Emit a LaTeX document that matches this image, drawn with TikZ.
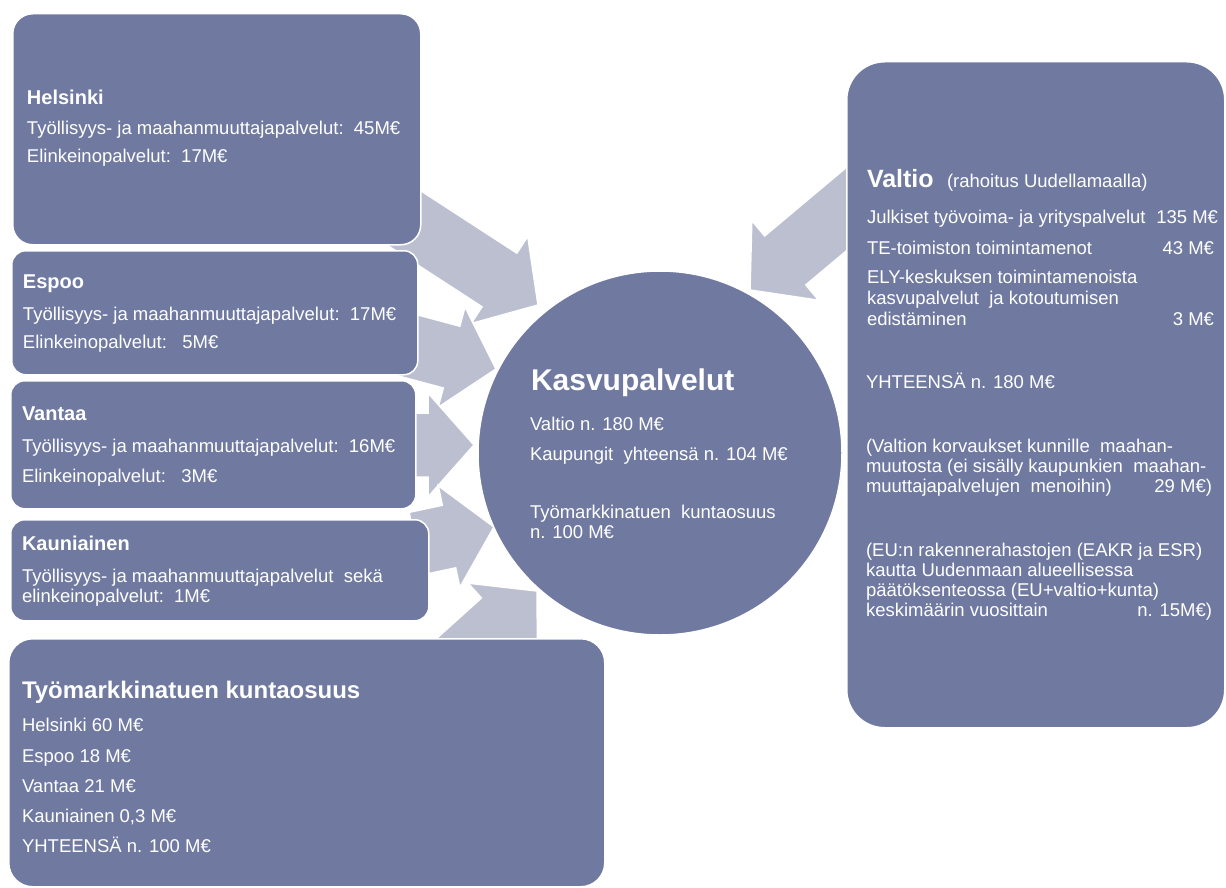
\documentclass[tikz,border=0pt]{standalone}
\usepackage{fontspec}
\setmainfont{Liberation Sans}
\definecolor{boxc}{RGB}{112,122,160}
\definecolor{arrc}{RGB}{188,191,208}
\begin{document}
\begin{tikzpicture}[x=1pt,y=-1pt,
  cbox/.style={fill=boxc,draw=white,line width=1.5pt,inner sep=0pt,anchor=north west},
  blockarrow/.style={fill=arrc,draw=white,line width=1.5pt,line join=miter},
  txt/.style={anchor=base west,inner sep=0pt,outer sep=0pt,text=white,font=\fontsize{18.5}{20}\selectfont},
  amt/.style={txt,anchor=base east},
  hd/.style={txt,font=\fontsize{20}{24}\selectfont\bfseries}]
\path[fill=white] (0,0) rectangle (1226,888);
\useasboundingbox (0,0) rectangle (1226,888);

% arrow tips
\coordinate (t1) at (538,305);
\coordinate (t2) at (496,369);
\coordinate (t3) at (474,445);
\coordinate (t4) at (494,527);
\coordinate (t5) at (537,591);
\coordinate (t6) at (750,290);

\begin{scope}[shift={(t1)},rotate=-33]
 \path[blockarrow] (0,0) -- (-46,52) -- (-46,32) -- (-200,32) -- (-200,-32) -- (-46,-32) -- (-46,-52) -- cycle;
\end{scope}
\begin{scope}[shift={(t2)},rotate=-15]
 \path[blockarrow] (0,0) -- (-46,52) -- (-46,32) -- (-100,32) -- (-100,-32) -- (-46,-32) -- (-46,-52) -- cycle;
\end{scope}
\begin{scope}[shift={(t3)}]
 \path[blockarrow] (0,0) -- (-46,52) -- (-46,32) -- (-70,32) -- (-70,-32) -- (-46,-32) -- (-46,-52) -- cycle;
\end{scope}
\begin{scope}[shift={(t4)},rotate=12]
 \path[blockarrow] (0,0) -- (-46,52) -- (-46,32) -- (-80,32) -- (-80,-32) -- (-46,-32) -- (-46,-52) -- cycle;
\end{scope}
\begin{scope}[shift={(t5)},rotate=42]
 \path[blockarrow] (0,0) -- (-46,52) -- (-46,32) -- (-120,32) -- (-120,-32) -- (-46,-32) -- (-46,-52) -- cycle;
\end{scope}
\begin{scope}[shift={(t6)},rotate=-140]
 \path[blockarrow] (0,0) -- (-46,52) -- (-46,32) -- (-190,32) -- (-190,-32) -- (-46,-32) -- (-46,-52) -- cycle;
\end{scope}

% boxes
\node[cbox,rounded corners=20pt,minimum width=408pt,minimum height=231pt] (hel) at (12,13) {};
\node[cbox,rounded corners=14pt,minimum width=406pt,minimum height=124pt] (esp) at (11,250) {};
\node[cbox,rounded corners=14pt,minimum width=405pt,minimum height=128pt] (van) at (10,380) {};
\node[cbox,rounded corners=14pt,minimum width=418pt,minimum height=101pt] (kau) at (10,519) {};
\node[cbox,rounded corners=24pt,minimum width=596pt,minimum height=248pt] (tmt) at (8,638) {};
\node[cbox,rounded corners=38pt,minimum width=378pt,minimum height=666pt] (val) at (846,61) {};
\node[fill=boxc,draw=white,line width=1.5pt,circle,inner sep=0pt,minimum size=364pt] (kasvu) at (660,453) {};

% Helsinki
\node[hd] (helA) at (27,105) {Helsinki};
\node[txt] (helB) at (27,135) {Työllisyys- ja maahanmuuttajapalvelut:\ \ 45M€};
\node[txt] (helC) at (27,163) {Elinkeinopalvelut:\ \ 17M€};
% Espoo
\node[hd] (espA) at (23,288) {Espoo};
\node[txt] (espB) at (23,320) {Työllisyys- ja maahanmuuttajapalvelut:\ \ 17M€};
\node[txt] (espC) at (23,348) {Elinkeinopalvelut:\ \ \ 5M€};
% Vantaa
\node[hd] (vanA) at (22,420) {Vantaa};
\node[txt] (vanB) at (22,452) {Työllisyys- ja maahanmuuttajapalvelut:\ \ 16M€};
\node[txt] (vanC) at (22,482) {Elinkeinopalvelut:\ \ \ 3M€};
% Kauniainen
\node[hd] (kauA) at (22,550) {Kauniainen};
\node[txt] (kauB) at (22,582) {Työllisyys- ja maahanmuuttajapalvelut\ \ sekä};
\node[txt] (kauC) at (22,602) {elinkeinopalvelut:\ \ 1M€};
% Tyomarkkinatuen
\node[txt,font=\fontsize{24}{28}\selectfont\bfseries] (tmtA) at (22,698) {Työmarkkinatuen kuntaosuus};
\node[txt] (tmtB) at (22,731) {Helsinki 60 M€};
\node[txt] (tmtC) at (22,762) {Espoo 18 M€};
\node[txt] (tmtD) at (22,792) {Vantaa 21 M€};
\node[txt] (tmtE) at (22,822) {Kauniainen 0,3 M€};
\node[txt] (tmtF) at (22,852) {YHTEENSÄ n. 100 M€};
% Kasvupalvelut
\node[txt,font=\fontsize{30}{34}\selectfont\bfseries] (kasA) at (531,390) {Kasvupalvelut};
\node[txt] (kasB) at (530,430) {Valtio n. 180 M€};
\node[txt] (kasC) at (530,460) {Kaupungit\ \ yhteensä n. 104 M€};
\node[txt] (kasD) at (530,518) {Työmarkkinatuen\ \ kuntaosuus};
\node[txt] (kasE) at (530,538) {n. 100 M€};
% Valtio
\node[txt,font=\fontsize{25}{28}\selectfont\bfseries] (valA) at (867,187) {Valtio};
\node[txt] (valA2) at (947,187) {(rahoitus Uudellamaalla)};
\node[txt] (valB) at (867,223) {Julkiset työvoima- ja yrityspalvelut};
\node[amt] (valB2) at (1218,223) {135 M€};
\node[txt] (valC) at (867,254) {TE-toimiston toimintamenot};
\node[amt] (valC2) at (1214,254) {43 M€};
\node[txt] (valD) at (867,283) {ELY-keskuksen toimintamenoista};
\node[txt] (valE) at (867,304) {kasvupalvelut\ \ ja kotoutumisen};
\node[txt] (valF) at (867,325) {edistäminen};
\node[amt] (valF2) at (1214,325) {3 M€};
\node[txt] (valG) at (866,388) {YHTEENSÄ n. 180 M€};
\node[txt] (valH) at (866,452) {(Valtion korvaukset kunnille\ \ maahan-};
\node[txt] (valI) at (866,472) {muutosta (ei sisälly kaupunkien\ \ maahan-};
\node[txt] (valJ) at (866,492) {muuttajapalvelujen\ \ menoihin)};
\node[amt] (valJ2) at (1212,492) {29 M€)};
\node[txt] (valK) at (866,556) {(EU:n rakennerahastojen (EAKR ja ESR)};
\node[txt] (valL) at (866,576) {kautta Uudenmaan alueellisessa};
\node[txt] (valM) at (866,596) {päätöksenteossa (EU+valtio+kunta)};
\node[txt] (valN) at (866,616) {keskimäärin vuosittain};
\node[amt] (valN2) at (1212,616) {n. 15M€)};
\end{tikzpicture}
\end{document}
